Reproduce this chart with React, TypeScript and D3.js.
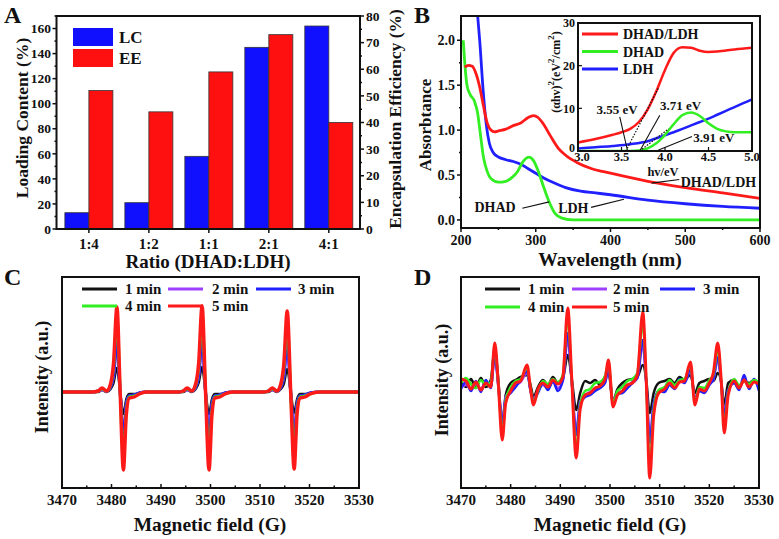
import React from 'react';
import * as d3 from 'd3';

const FONT = "'Liberation Serif', 'DejaVu Serif', 'Noto Serif', 'Times New Roman', serif";

// ---------------- Panel A data ----------------
const ratioLabels = ['1:4', '1:2', '1:1', '2:1', '4:1'];
const loadingContent = [13, 21, 58, 145, 162];
const encapsulationEfficiency = [52, 44, 59, 73, 40];
const lcTicks = [0, 20, 40, 60, 80, 100, 120, 140, 160];
const eeTicks = [0, 10, 20, 30, 40, 50, 60, 70, 80];

// ---------------- Panel B data ----------------
const wlTicks = [200, 300, 400, 500, 600];
const absTicks = [0, 0.5, 1.0, 1.5, 2.0];
const absDHADLDH: [number, number][] = [
  [205, 1.7], [210, 1.72], [215, 1.71], [220, 1.63], [225, 1.48], [230, 1.27], [235, 1.08],
  [240, 1.0], [245, 0.98], [250, 0.99], [260, 1.01], [270, 1.05], [280, 1.08], [290, 1.14],
  [297, 1.16], [303, 1.14], [310, 1.07], [320, 0.93], [330, 0.8], [340, 0.72], [355, 0.64],
  [375, 0.57], [400, 0.52], [450, 0.43], [500, 0.36], [550, 0.3], [600, 0.24],
];
const absDHAD: [number, number][] = [
  [203, 2.0], [205, 1.75], [208, 1.5], [212, 1.4], [218, 1.32], [222, 1.2], [226, 0.95],
  [230, 0.7], [235, 0.54], [240, 0.46], [250, 0.42], [260, 0.43], [268, 0.47], [275, 0.53],
  [283, 0.65], [291, 0.7], [297, 0.66], [303, 0.55], [310, 0.38], [318, 0.2], [326, 0.07],
  [335, 0.02], [350, 0.0], [400, 0.0], [500, 0.0], [600, 0.0],
];
const absLDH: [number, number][] = [
  [221, 2.4], [225, 2.0], [230, 1.4], [234, 1.05], [238, 0.85], [243, 0.75], [250, 0.7],
  [260, 0.67], [270, 0.65], [280, 0.62], [290, 0.57], [300, 0.52], [310, 0.47], [325, 0.41],
  [340, 0.36], [360, 0.32], [380, 0.3], [400, 0.28], [450, 0.22], [500, 0.18], [550, 0.15],
  [600, 0.13],
];
// inset: (alpha h v)^2 vs hv
const evTicks = [3.0, 3.5, 4.0, 4.5, 5.0];
const taucTicks = [0, 10, 20, 30];
const taucDHADLDH: [number, number][] = [
  [3.0, 2.0], [3.2, 2.8], [3.4, 3.8], [3.5, 4.4], [3.6, 5.2], [3.7, 6.8], [3.8, 9.7], [3.9, 14],
  [4.0, 19], [4.1, 23], [4.2, 24.3], [4.3, 24.2], [4.4, 23.5], [4.5, 23.2], [4.6, 23.3],
  [4.8, 23.8], [5.0, 24.2],
];
const taucDHAD: [number, number][] = [
  [3.0, 0], [3.6, 0], [3.7, 0.1], [3.8, 0.6], [3.9, 1.8], [4.0, 3.8], [4.1, 6.3], [4.2, 8.4],
  [4.3, 9.0], [4.4, 8.2], [4.5, 6.5], [4.6, 5.2], [4.7, 4.6], [4.8, 4.4], [5.0, 4.4],
];
const taucLDH: [number, number][] = [
  [3.0, 0.6], [3.2, 0.9], [3.4, 1.2], [3.6, 1.6], [3.8, 2.3], [3.9, 3.0], [4.0, 3.7], [4.1, 4.4],
  [4.2, 5.2], [4.3, 6.0], [4.4, 6.8], [4.5, 7.6], [4.6, 8.5], [4.7, 9.4], [4.8, 10.3],
  [4.9, 11.2], [5.0, 12.1],
];
const tangentRed: [number, number][] = [[3.55, 0], [3.93, 15]];
const tangentGreen: [number, number][] = [[3.71, 0], [4.04, 5.2]];
const bandGaps = ['3.55 eV', '3.71 eV', '3.91 eV'];

// ---------------- Panel C data (EPR) ----------------
const fieldTicks = [3470, 3480, 3490, 3500, 3510, 3520, 3530];
const timeLabels = ['1 min', '2 min', '3 min', '4 min', '5 min'];
const cField = [
  3470, 3476, 3477.3, 3478.1, 3479.0, 3479.8, 3480.4, 3481.1, 3481.75, 3482.4, 3483.0, 3483.6, 3484.6, 3485.6, 3487, 3490,
  3493.5, 3494.5, 3495.3, 3496.2, 3497.0, 3497.6, 3498.3, 3499.0, 3499.7, 3500.3, 3500.9, 3501.9, 3502.9, 3504.5, 3508,
  3510.7, 3511.7, 3512.5, 3513.4, 3514.2, 3514.8, 3515.5, 3516.2, 3516.9, 3517.5, 3518.1, 3519.1, 3520.1, 3522, 3530,
];
const c1min = [
  0, 0, 0, 2, 0, 3, 9, 24, 0, -22, -7, -2, -2, -1, 0, 0,
  0, 0, 2, 0, 3, 9, 25, 0, -22, -7, -2, -2, -1, 0, 0,
  0, 0, 2, 0, 3, 8, 23, 0, -21, -7, -2, -2, -1, 0, 0,
];
const c2min = [
  0, 0, 1, 2, 1, 5, 15, 46, 0, -42, -12, -4, -3, -1, 0, 0,
  0, 1, 2, 1, 5, 15, 47, 0, -42, -12, -4, -3, -1, 0, 0,
  0, 1, 2, 1, 5, 14, 45, 0, -41, -12, -4, -3, -1, 0, 0,
];
const c3min = [
  0, 0, 1, 3, 1, 5, 17, 50, 0, -46, -13, -4, -3, -1, 0, 0,
  0, 1, 3, 1, 5, 17, 51, 0, -46, -13, -4, -3, -1, 0, 0,
  0, 1, 3, 1, 5, 16, 49, 0, -45, -13, -4, -3, -1, 0, 0,
];
const c4min = [
  0, 0, 1, 3, 1, 7, 24, 72, 0, -66, -19, -5, -4, -2, 0, 0,
  0, 1, 3, 1, 7, 24, 73, 0, -66, -19, -5, -4, -2, 0, 0,
  0, 1, 3, 1, 7, 23, 70, 0, -65, -18, -5, -4, -2, 0, 0,
];
const c5min = [
  0, 0, 1, 4, 1, 8, 28, 85, 0, -78, -22, -6, -5, -2, 0, 0,
  0, 1, 4, 1, 8, 28, 86, 0, -78, -22, -6, -5, -2, 0, 0,
  0, 1, 4, 1, 8, 27, 81, 0, -77, -21, -6, -5, -2, 0, 0,
];

// ---------------- Panel D data (EPR) ----------------
const dField = [
  3470, 3471, 3472, 3473, 3474, 3475, 3476, 3476.8, 3477.5, 3478.3,
  3479, 3480, 3481, 3482, 3483.3, 3484, 3484.6, 3485.5, 3486.5, 3487.5,
  3488.5, 3489.5, 3490.5, 3491.5, 3492.3, 3493.2, 3494, 3495, 3496, 3497,
  3498, 3499, 3499.7, 3500.6, 3501.5, 3502.5, 3503.5, 3504.5, 3505.5, 3506.6,
  3507.3, 3508, 3508.8, 3509.8, 3511, 3512, 3513, 3514, 3515, 3516.2,
  3517.1, 3518, 3519, 3520, 3520.8, 3521.7, 3522.4, 3523, 3523.8, 3525,
  3526, 3527, 3528, 3529, 3530,
];
const d1min = [
  4, -2, 6, -3, 7, -2, 5, 36, 6, -40,
  -10, 2, 5, 8, 10, 0, -12, -2, 5, 0,
  8, 2, 6, 30, 6, -25, -8, 4, 2, 5,
  0, 8, 12, -16, -4, 2, 5, 6, 8, 20,
  5, -28, -8, 2, 4, 6, 2, 8, 5, 10,
  -8, 2, 4, 6, 4, 12, 3, -20, 2, 5,
  -2, 4, 2, 5, 1,
];
const d2min = [
  -2, 0, -3, 2, -4, 3, -1, 28, 0, -35,
  -12, -6, 0, 3, 12, -5, -14, -6, 0, -3,
  3, -3, 4, 46, 3, -45, -16, -10, -7, -5,
  -2, 3, 16, -16, -8, -6, -2, 3, 7, 40,
  2, -52, -18, -6, -5, 1, -3, 4, 2, 15,
  -13, -5, -6, 1, 5, 25, 2, -28, -5, 2,
  -4, 7, -3, 4, -4,
];
const d3min = [
  -4, 3, -6, 4, -7, 5, -3, 30, 0, -38,
  -14, -8, -2, 5, 14, -6, -15, -8, 2, -5,
  4, -6, 5, 52, 4, -50, -18, -12, -10, -6,
  -3, 2, 17, -18, -9, -8, -3, 2, 7, 45,
  2, -58, -20, -6, -7, 0, -4, 6, 2, 16,
  -14, -6, -8, 0, 6, 28, 2, -32, -6, 2,
  -5, 10, -4, 6, -6,
];
const d4min = [
  2, 7, 1, -3, 5, 0, 3, 38, 2, -48,
  -15, -2, 4, 6, 17, -3, -17, -6, 4, 1,
  6, 3, 10, 68, 5, -65, -20, -6, -4, 2,
  3, 9, 22, -18, -6, -2, 4, 6, 12, 62,
  3, -80, -25, -5, -2, 5, 0, 5, 6, 20,
  -17, -2, -3, 5, 10, 36, 3, -40, -8, 6,
  0, 4, 1, 5, 3,
];
const d5min = [
  6, 4, -4, 3, -5, 2, -2, 42, 2, -55,
  -18, -6, 2, 4, 20, -4, -20, -4, 2, -2,
  5, 1, 8, 77, 6, -73, -24, -10, -8, -3,
  -1, 6, 25, -22, -10, -6, 0, 2, 10, 73,
  4, -93, -30, -8, -4, 2, -3, 3, 4, 23,
  -20, -4, -6, 2, 12, 42, 4, -48, -10, 4,
  -3, 5, -2, 3, 1,
];

const C_BLACK = '#111111';
const C_PURPLE = '#a040ff';
const C_BLUE = '#2020ff';
const C_GREEN = '#33ee22';
const C_RED = '#ff1a1a';
const timeColors = [C_BLACK, C_PURPLE, C_BLUE, C_GREEN, C_RED];

const bold = { fontWeight: 700 as const, fill: '#111', style: { fontFamily: FONT } };

function EprPanel(props: {
  x0: number; x1: number; y0: number; y1: number;
  yDomain: [number, number];
  field: number[]; series: number[][]; widths: number[];
  legend: { lx: number; tx: number; y: number }[];
  titleX: number; ylabX: number; ylabY: number;
}) {
  const { x0, x1, y0, y1, yDomain, field, series, widths, legend } = props;
  const x = d3.scaleLinear().domain([3470, 3530]).range([x0, x1]);
  const y = d3.scaleLinear().domain(yDomain).range([y1, y0]);
  const line = d3.line<number>()
    .x((_, i) => x(field[i]))
    .y((d) => y(d))
    .curve(d3.curveMonotoneX);
  const minor = x.ticks(12);
  return (
    <g>
      {series.map((s, k) => (
        <path key={k} d={line(s) || ''} fill="none" stroke={timeColors[k]} strokeWidth={widths[k]} strokeLinejoin="round" />
      ))}
      <rect x={x0} y={y0} width={x1 - x0} height={y1 - y0} fill="none" stroke="#111" strokeWidth={2} />
      {minor.map((t) => (
        <line key={'m' + t} x1={x(t)} x2={x(t)} y1={y1} y2={y1 - (t % 10 === 0 ? 4 : 2.5)} stroke="#111" strokeWidth={1.5} />
      ))}
      {fieldTicks.map((t) => (
        <text key={t} x={x(t)} y={y1 + 17} textAnchor="middle" fontSize={15} {...bold}>{t}</text>
      ))}
      <text x={props.titleX} y={y1 + 43} textAnchor="middle" fontSize={19.5} {...bold}>Magnetic field (G)</text>
      <text transform={`translate(${props.ylabX},${props.ylabY}) rotate(-90)`} textAnchor="middle" dominantBaseline="central" fontSize={18} {...bold}>Intensity (a.u.)</text>
      {legend.map((l, k) => (
        <g key={k}>
          <line x1={l.lx} x2={l.lx + 35} y1={l.y} y2={l.y} stroke={timeColors[k]} strokeWidth={3} />
          <text x={l.tx} y={l.y + 5} fontSize={15} {...bold}>{timeLabels[k]}</text>
        </g>
      ))}
    </g>
  );
}

export default function App() {
  // ---------- Panel A ----------
  const xA = d3.scaleLinear().domain([-0.54, 4.52]).range([56.5, 360]);
  const yAL = d3.scaleLinear().domain([0, 170]).range([229, 16]);
  const yAR = d3.scaleLinear().domain([0, 80]).range([229, 16]);
  const barW = 24;

  // ---------- Panel B ----------
  const xB = d3.scaleLinear().domain([200, 600]).range([461, 760]);
  const yB = d3.scaleLinear().domain([-0.09, 2.27]).range([228, 16]);
  const lineB = d3.line<[number, number]>().x((d) => xB(d[0])).y((d) => yB(d[1])).curve(d3.curveMonotoneX);
  const xI = d3.scaleLinear().domain([3.0, 5.0]).range([578, 752]);
  const yI = d3.scaleLinear().domain([0, 30]).range([151, 23]);
  const lineI = d3.line<[number, number]>().x((d) => xI(d[0])).y((d) => yI(d[1])).curve(d3.curveMonotoneX);
  const lineStraight = d3.line<[number, number]>().x((d) => xI(d[0])).y((d) => yI(d[1]));

  const insetLegend = [
    { name: 'DHAD/LDH', color: C_RED },
    { name: 'DHAD', color: C_GREEN },
    { name: 'LDH', color: C_BLUE },
  ];

  return (
    <div style={{ position: 'absolute', left: 0, top: 0, width: 779, height: 539, background: '#fff' }}>
      <svg width={779} height={539} viewBox="0 0 779 539" style={{ display: 'block', fontFamily: FONT }}>
        <rect x={0} y={0} width={779} height={539} fill="#fff" />
        <defs>
          <clipPath id="clipB"><rect x={461} y={16} width={299} height={212} /></clipPath>
          <clipPath id="clipI"><rect x={578} y={23} width={174} height={128} /></clipPath>
        </defs>

        {/* ================= Panel A ================= */}
        <text x={4} y={23} fontSize={24} {...bold}>A</text>
        {ratioLabels.map((r, i) => (
          <g key={r}>
            <rect x={xA(i) - barW} y={yAL(loadingContent[i])} width={barW} height={yAL(0) - yAL(loadingContent[i])} fill="#1010ff" stroke="#333" strokeWidth={0.8} />
            <rect x={xA(i)} y={yAR(encapsulationEfficiency[i])} width={barW} height={yAR(0) - yAR(encapsulationEfficiency[i])} fill="#ff1010" stroke="#333" strokeWidth={0.8} />
          </g>
        ))}
        <rect x={56.5} y={16} width={360 - 56.5} height={229 - 16} fill="none" stroke="#111" strokeWidth={2} />
        {yAL.ticks(17).map((t) => (
          <line key={'al' + t} x1={56.5} x2={56.5 - (t % 20 === 0 ? 4 : 2)} y1={yAL(t)} y2={yAL(t)} stroke="#111" strokeWidth={1.5} />
        ))}
        {lcTicks.map((t) => (
          <text key={'lt' + t} x={51} y={yAL(t)} dy="0.35em" textAnchor="end" fontSize={13.5} {...bold}>{t}</text>
        ))}
        {yAR.ticks(16).map((t) => (
          <line key={'ar' + t} x1={360} x2={360 + (t % 10 === 0 ? 4 : 2)} y1={yAR(t)} y2={yAR(t)} stroke="#111" strokeWidth={1.5} />
        ))}
        {eeTicks.map((t) => (
          <text key={'rt' + t} x={366} y={yAR(t)} dy="0.35em" textAnchor="start" fontSize={13.5} {...bold}>{t}</text>
        ))}
        {ratioLabels.map((r, i) => (
          <g key={'xl' + r}>
            <line x1={xA(i)} x2={xA(i)} y1={229} y2={233} stroke="#111" strokeWidth={1.5} />
            <text x={xA(i)} y={249} textAnchor="middle" fontSize={15} {...bold}>{r}</text>
          </g>
        ))}
        <text x={208} y={268} textAnchor="middle" fontSize={19} {...bold}>Ratio (DHAD:LDH)</text>
        <text transform="translate(22,118) rotate(-90)" textAnchor="middle" dominantBaseline="central" fontSize={17.5} {...bold}>Loading Content (%)</text>
        <text transform="translate(395,119) rotate(-90)" textAnchor="middle" dominantBaseline="central" fontSize={17.5} {...bold}>Encapsulation Efficiency (%)</text>
        <rect x={73} y={28} width={40} height={18} fill="#1010ff" />
        <rect x={73} y={49} width={40} height={18} fill="#ff1010" />
        <text x={119} y={43} fontSize={17} {...bold}>LC</text>
        <text x={119} y={64} fontSize={17} {...bold}>EE</text>

        {/* ================= Panel B ================= */}
        <text x={414} y={23} fontSize={24} {...bold}>B</text>
        <g clipPath="url(#clipB)">
          <path d={lineB(absLDH) || ''} fill="none" stroke={C_BLUE} strokeWidth={2.8} />
          <path d={lineB(absDHAD) || ''} fill="none" stroke={C_GREEN} strokeWidth={2.8} />
          <path d={lineB(absDHADLDH) || ''} fill="none" stroke={C_RED} strokeWidth={2.8} />
        </g>
        <rect x={461} y={16} width={299} height={212} fill="none" stroke="#111" strokeWidth={2} />
        {xB.ticks(8).map((t) => (
          <line key={'bx' + t} x1={xB(t)} x2={xB(t)} y1={228} y2={228 + (t % 100 === 0 ? 4 : 2)} stroke="#111" strokeWidth={1.5} />
        ))}
        {wlTicks.map((t) => (
          <text key={'bxl' + t} x={xB(t)} y={245} textAnchor="middle" fontSize={14} {...bold}>{t}</text>
        ))}
        {d3.range(0, 9).map((i) => i * 0.25).map((t) => (
          <line key={'by' + t} x1={461} x2={461 - (t % 0.5 === 0 ? 4 : 2)} y1={yB(t)} y2={yB(t)} stroke="#111" strokeWidth={1.5} />
        ))}
        {absTicks.map((t) => (
          <text key={'byl' + t} x={455} y={yB(t)} dy="0.35em" textAnchor="end" fontSize={14} {...bold}>{t.toFixed(1)}</text>
        ))}
        <text x={610} y={266} textAnchor="middle" fontSize={19.5} {...bold}>Wavelength (nm)</text>
        <text transform="translate(425,125) rotate(-90)" textAnchor="middle" dominantBaseline="central" fontSize={17} {...bold}>Absorbtance</text>
        {/* main-curve annotations */}
        <line x1={xB(455)} y1={yB(0.41)} x2={xB(492)} y2={yB(0.45)} stroke="#111" strokeWidth={1.2} />
        <text x={xB(494)} y={yB(0.37)} fontSize={14} {...bold}>DHAD/LDH</text>
        <line x1={xB(282)} y1={yB(0.13)} x2={xB(318)} y2={yB(0.2)} stroke="#111" strokeWidth={1.2} />
        <text x={xB(218)} y={yB(0.09)} fontSize={14} {...bold}>DHAD</text>
        <line x1={xB(374)} y1={yB(0.14)} x2={xB(418)} y2={yB(0.23)} stroke="#111" strokeWidth={1.2} />
        <text x={xB(330)} y={yB(0.08)} fontSize={14} {...bold}>LDH</text>

        {/* inset */}
        <rect x={578} y={23} width={174} height={128} fill="#fff" />
        <g clipPath="url(#clipI)">
          <path d={lineI(taucLDH) || ''} fill="none" stroke={C_BLUE} strokeWidth={2.5} />
          <path d={lineI(taucDHAD) || ''} fill="none" stroke={C_GREEN} strokeWidth={2.5} />
          <path d={lineI(taucDHADLDH) || ''} fill="none" stroke={C_RED} strokeWidth={2.5} />
          <path d={lineStraight(tangentRed) || ''} fill="none" stroke="#111" strokeWidth={1.2} strokeDasharray="1.5,1.5" />
          <path d={lineStraight(tangentGreen) || ''} fill="none" stroke="#111" strokeWidth={1.2} strokeDasharray="1.5,1.5" />
        </g>
        <rect x={578} y={23} width={174} height={128} fill="none" stroke="#111" strokeWidth={2} />
        {evTicks.map((t) => (
          <g key={'ix' + t}>
            <line x1={xI(t)} x2={xI(t)} y1={151} y2={147} stroke="#111" strokeWidth={1.2} />
            <text x={xI(t) + (t === 3.0 ? 4 : 0)} y={161} textAnchor="middle" fontSize={12.5} {...bold}>{t.toFixed(1)}</text>
          </g>
        ))}
        {taucTicks.map((t) => (
          <g key={'iy' + t}>
            <line x1={578} x2={582} y1={yI(t)} y2={yI(t)} stroke="#111" strokeWidth={1.2} />
            <text x={575} y={yI(t) - (t === 0 ? 3 : 0)} dy="0.35em" textAnchor="end" fontSize={12} {...bold}>{t}</text>
          </g>
        ))}
        <text x={663} y={176} textAnchor="middle" fontSize={12.5} {...bold}>hv/eV</text>
        <text transform="translate(556,72) rotate(-90)" textAnchor="middle" dominantBaseline="central" fontSize={12} {...bold}>
          (αhv)<tspan dy={-5} fontSize={9}>2</tspan><tspan dy={5}>(eV</tspan><tspan dy={-5} fontSize={9}>2</tspan><tspan dy={5}>/cm</tspan><tspan dy={-5} fontSize={9}>2</tspan><tspan dy={5}>)</tspan>
        </text>
        {insetLegend.map((l, k) => (
          <g key={l.name}>
            <line x1={582} x2={618} y1={34 + k * 17.5} y2={34 + k * 17.5} stroke={l.color} strokeWidth={3} />
            <text x={623} y={34 + k * 17.5 + 5} fontSize={14} {...bold}>{l.name}</text>
          </g>
        ))}
        {/* band-gap labels */}
        <line x1={xI(3.57)} y1={yI(0)} x2={xI(3.48)} y2={yI(8.0)} stroke="#111" strokeWidth={1.1} />
        <text x={xI(3.45)} y={yI(8.7)} textAnchor="middle" fontSize={13} {...bold}>{bandGaps[0]}</text>
        <line x1={xI(3.71)} y1={yI(0)} x2={xI(3.94)} y2={yI(8.4)} stroke="#111" strokeWidth={1.1} />
        <text x={xI(4.18)} y={yI(9.7)} textAnchor="middle" fontSize={13} {...bold}>{bandGaps[1]}</text>
        <line x1={xI(3.92)} y1={yI(0.2)} x2={xI(4.31)} y2={yI(3.4)} stroke="#111" strokeWidth={1.1} />
        <text x={xI(4.56)} y={yI(2.0)} textAnchor="middle" fontSize={13} {...bold}>{bandGaps[2]}</text>

        {/* ================= Panel C ================= */}
        <text x={4} y={285} fontSize={24} {...bold}>C</text>
        <EprPanel
          x0={62} x1={359} y0={277} y1={488}
          yDomain={[-96, 115]}
          field={cField}
          series={[c1min, c2min, c3min, c4min, c5min]}
          widths={[2.5, 3, 3, 3, 3.5]}
          legend={[
            { lx: 82, tx: 125, y: 289 }, { lx: 168, tx: 212, y: 289 }, { lx: 256, tx: 298, y: 289 },
            { lx: 82, tx: 125, y: 306 }, { lx: 168, tx: 212, y: 306 },
          ]}
          titleX={210} ylabX={42} ylabY={377}
        />

        {/* ================= Panel D ================= */}
        <text x={414} y={285} fontSize={24} {...bold}>D</text>
        <EprPanel
          x0={461} x1={759} y0={277} y1={488}
          yDomain={[-103, 108]}
          field={dField}
          series={[d1min, d2min, d3min, d4min, d5min]}
          widths={[2.5, 2.5, 2.5, 2.5, 3]}
          legend={[
            { lx: 485, tx: 528, y: 289 }, { lx: 572, tx: 613, y: 289 }, { lx: 660, tx: 703, y: 289 },
            { lx: 485, tx: 528, y: 307 }, { lx: 572, tx: 613, y: 307 },
          ]}
          titleX={610} ylabX={442} ylabY={380}
        />
      </svg>
    </div>
  );
}
